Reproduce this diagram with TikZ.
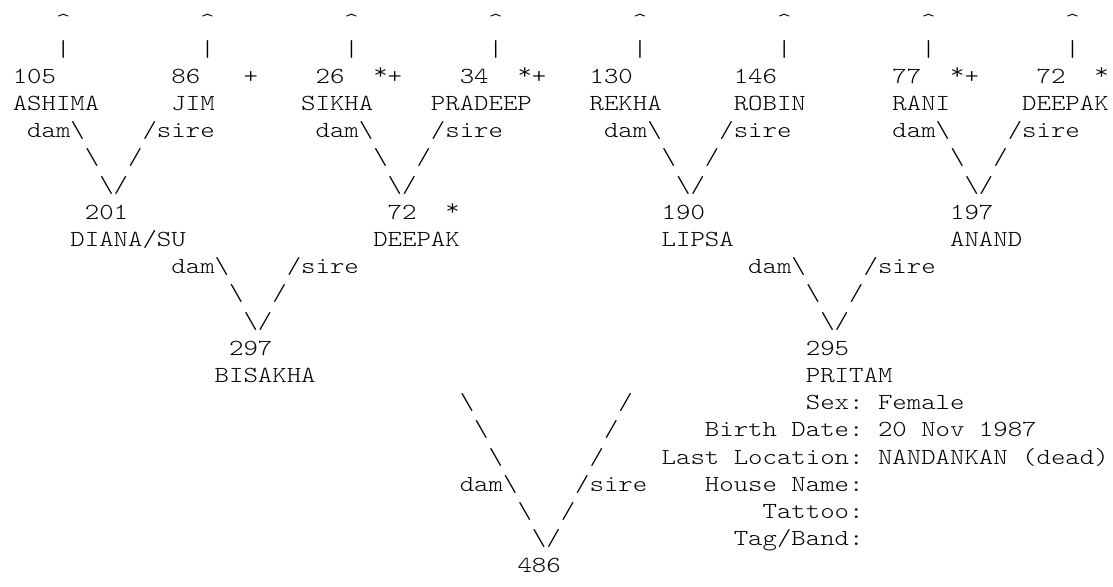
\documentclass[tikz,border=0pt]{standalone}
\usepackage{fontspec}
\newfontfamily\asciimono[FakeStretch=1.194]{lmmonolt10-regular.otf}
\tikzset{asc/.style={anchor=base west, inner sep=0pt, outer sep=0pt,
  font=\asciimono\fontsize{17.25pt}{20pt}\selectfont, text=black}}
% \T{line}{column}{text}: node named l<line>c<column>
\newcommand\T[3]{\node[asc] (l#1c#2) at ({12.8+#2*14.42},{28.9+(#1-1)*27.2}) {#3};}
\newcommand\bs{\textbackslash}
\newcommand\up{\textasciicircum}
\newcommand\st{\raisebox{0.17em}{*}}
\begin{document}
\begin{tikzpicture}[x=0.75pt,y=-0.75pt]
\fill[white] (0,0) rectangle (1113,586);
\useasboundingbox (0,0) rectangle (1113,586);
% line 1 and 2
\foreach \c in {3,13,23,33,43,53,63,73}{\T{1}{\c}{\up}\T{2}{\c}{\textbar}}
% line 3
\T{3}{0}{105}\T{3}{11}{86}\T{3}{16}{+}\T{3}{21}{26}\T{3}{25}{\st+}
\T{3}{31}{34}\T{3}{35}{\st+}\T{3}{40}{130}\T{3}{50}{146}
\T{3}{61}{77}\T{3}{65}{\st+}\T{3}{71}{72}\T{3}{75}{\st}
% line 4
\T{4}{0}{ASHIMA}\T{4}{11}{JIM}\T{4}{20}{SIKHA}\T{4}{29}{PRADEEP}
\T{4}{40}{REKHA}\T{4}{50}{ROBIN}\T{4}{61}{RANI}\T{4}{70}{DEEPAK}
% line 5-7
\foreach \c in {1,21,41,61}{
  \T{5}{\c}{dam\bs}
  \pgfmathtruncatemacro\s{\c+8}\T{5}{\s}{/sire}
  \pgfmathtruncatemacro\a{\c+4}\T{6}{\a}{\bs}
  \pgfmathtruncatemacro\b{\c+7}\T{6}{\b}{/}
  \pgfmathtruncatemacro\v{\c+5}\T{7}{\v}{\bs/}
}
% line 8, 9
\T{8}{5}{201}\T{8}{26}{72}\T{8}{30}{\st}\T{8}{45}{190}\T{8}{65}{197}
\T{9}{4}{DIANA/SU}\T{9}{25}{DEEPAK}\T{9}{45}{LIPSA}\T{9}{65}{ANAND}
% line 10-12
\foreach \c in {11,51}{
  \T{10}{\c}{dam\bs}
  \pgfmathtruncatemacro\s{\c+8}\T{10}{\s}{/sire}
  \pgfmathtruncatemacro\a{\c+4}\T{11}{\a}{\bs}
  \pgfmathtruncatemacro\b{\c+7}\T{11}{\b}{/}
  \pgfmathtruncatemacro\v{\c+5}\T{12}{\v}{\bs/}
}
% line 13, 14
\T{13}{15}{297}\T{13}{55}{295}
\T{14}{14}{BISAKHA}\T{14}{55}{PRITAM}
% line 15-21
\T{15}{31}{\bs}\T{15}{42}{/}\T{15}{55}{Sex:}\T{15}{60}{Female}
\T{16}{32}{\bs}\T{16}{41}{/}\T{16}{48}{Birth}\T{16}{54}{Date:}\T{16}{60}{20}\T{16}{63}{Nov}\T{16}{67}{1987}
\T{17}{33}{\bs}\T{17}{40}{/}\T{17}{45}{Last}\T{17}{50}{Location:}\T{17}{60}{NANDANKAN}\T{17}{70}{(dead)}
\T{18}{31}{dam\bs}\T{18}{39}{/sire}\T{18}{48}{House}\T{18}{54}{Name:}
\T{19}{35}{\bs}\T{19}{38}{/}\T{19}{52}{Tattoo:}
\T{20}{36}{\bs/}\T{20}{50}{Tag/Band:}
\T{21}{35}{486}
\end{tikzpicture}
\end{document}
